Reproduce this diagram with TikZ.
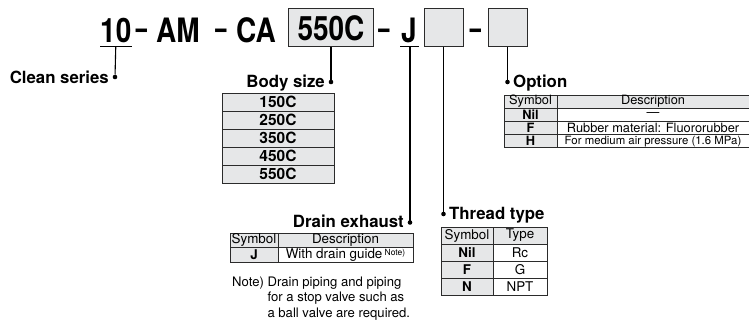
\documentclass[tikz,border=0pt]{standalone}
\usepackage{fontspec}
\setmainfont{TeX Gyre Heros}
\usepackage{graphicx}
\usepackage{tikz}
\usetikzlibrary{positioning,calc}
\definecolor{cellgray}{HTML}{E6E7E8}
\definecolor{rulegray}{HTML}{2B2B2B}
\newcommand{\codetxt}[1]{\scalebox{1}[1.2]{\fontsize{28}{28}\selectfont\bfseries #1}}
\newcommand{\codedashtxt}{\scalebox{0.72}[1.2]{\fontsize{28}{28}\selectfont\bfseries\textendash}}
\newcommand{\headfont}{\fontsize{16.8}{18}\selectfont\bfseries}
\newcommand{\cellfont}{\fontsize{13.4}{14}\selectfont}
\newcommand{\optfont}{\fontsize{12.8}{13}\selectfont}

\begin{document}
\begin{tikzpicture}[x=1pt,y=-1pt,
  code/.style={anchor=base west,inner sep=0pt},
  codedash/.style={anchor=base,inner sep=0pt},
  codebox/.style={draw=rulegray,fill=cellgray,line width=1pt,inner sep=0pt,minimum width=39pt,minimum height=38pt},
  wire/.style={line width=1.1pt,black},
  dot/.style={circle,fill=black,inner sep=0pt,minimum size=4.6pt},
  head/.style={inner sep=0pt,font=\headfont},
  cell/.style={draw=rulegray,line width=0.9pt,inner sep=0pt,font=\cellfont},
  gcell/.style={cell,fill=cellgray},
  wcell/.style={cell,fill=white},
  ocell/.style={minimum height=13.2pt,font=\optfont}]
\useasboundingbox (0,0) rectangle (749,321);

% model code
\node[code] (c10) at (100,42) {\codetxt{10}};
\node[codedash] (d1) at (141.5,40) {\codedashtxt};
\node[code] (cam) at (156,42) {\codetxt{AM}};
\node[codedash] (d2) at (221,40) {\codedashtxt};
\node[code] (cca) at (236,42) {\codetxt{CA}};
\node[codebox,minimum width=85pt] (csize) at (331,28) {\codetxt{550C}};
\node[codedash] (d3) at (384,40) {\codedashtxt};
\node[code] (cj) at (401,42) {\codetxt{J}};
\node[codebox] (cthread) at (443.5,28) {};
\node[codedash] (d4) at (475.5,40) {\codedashtxt};
\node[codebox] (copt) at (507.5,28) {};

% underlines
\draw[line width=1pt] ($(c10.south west)+(0,4)$) -- ($(c10.south east)+(0,4)$);
\draw[line width=1pt] ($(cj.south west)+(-1,4)$) -- ($(cj.south east)+(2,4)$);
\coordinate (c10u) at ($(c10.south)+(0,4)$);
\coordinate (cju) at ($(cj.south)+(1,4)$);

% dots and headings
\node[dot] (dclean) at (115,77) {};
\node[head,anchor=base east] (clean) at (109,83.5) {Clean series};
\node[dot] (dsize) at (331,82) {};
\node[head,anchor=base east] (size) at (325,88) {Body size};
\node[dot] (dopt) at (507.5,82) {};
\node[head,anchor=base west] (opt) at (513,88) {Option};
\node[dot] (ddrain) at (410,222.5) {};
\node[head,anchor=base east] (drain) at (404,227.5) {Drain exhaust};
\node[dot] (dthread) at (443.5,214) {};
\node[head,anchor=base west] (thread) at (449,219.5) {Thread type};

\draw[wire] (c10u) -- (dclean);
\draw[wire] (csize.south) -- (dsize);
\draw[wire] (copt.south) -- (dopt);
\draw[wire] (cju) -- (cju |- ddrain) -- (ddrain);
\draw[wire] (cthread.south) -- (dthread);

% body size table
\foreach \s [count=\i] in {150C,250C,350C,450C,550C}
  \node[gcell,minimum width=112pt,minimum height=18pt,font=\fontsize{15.5}{16}\selectfont\bfseries] (body\i) at (278,84+18*\i) {\s};

% option table
\node[gcell,ocell,minimum width=53pt] (osym) at (530.5,101.6) {Symbol};
\node[gcell,ocell,minimum width=192pt] (odesc) at (653,101.6) {Description};
\node[gcell,ocell,minimum width=53pt,font=\optfont\bfseries] (osym1) at (530.5,114.8) {Nil};
\node[wcell,ocell,minimum width=192pt] (odesc1) at (653,114.8) {\textemdash};
\node[gcell,ocell,minimum width=53pt,font=\optfont\bfseries] (osym2) at (530.5,128) {F};
\node[wcell,ocell,minimum width=192pt] (odesc2) at (653,128) {Rubber material: Fluororubber};
\node[gcell,ocell,minimum width=53pt,font=\optfont\bfseries] (osym3) at (530.5,141.2) {H};
\node[wcell,ocell,minimum width=192pt,font=\fontsize{11.4}{12}\selectfont] (odesc3) at (653,141.2) {For medium air pressure (1.6 MPa)};

% drain exhaust table
\node[gcell,minimum width=48pt,minimum height=14.5pt] (dsym) at (254,240.25) {Symbol};
\node[gcell,minimum width=135pt,minimum height=14.5pt] (ddesc) at (345.5,240.25) {Description};
\node[gcell,minimum width=48pt,minimum height=14.5pt,font=\cellfont\bfseries] (dsym1) at (254,254.75) {J};
\node[wcell,minimum width=135pt,minimum height=14.5pt] (ddesc1) at (345.5,254.75) {With drain guide\,\raisebox{3pt}{\fontsize{8.5}{9}\selectfont Note)}};
\node[anchor=base west,inner sep=0pt,font=\fontsize{13.1}{15.3}\selectfont] (note) at (232,286.5)
  {\begin{tabular}[t]{@{}l@{ }l@{}}Note) & Drain piping and piping\\ & for a stop valve such as\\ & a ball valve are required.\end{tabular}};

% thread type table
\node[gcell,minimum width=52pt,minimum height=17pt] (tsym) at (467,235.5) {Symbol};
\node[gcell,minimum width=54pt,minimum height=17pt] (ttype) at (520,235.5) {Type};
\foreach \s/\t [count=\i] in {Nil/Rc,F/G,N/NPT} {
  \node[gcell,minimum width=52pt,minimum height=17pt,font=\cellfont\bfseries] (tsym\i) at (467,235.5+17*\i) {\s};
  \node[wcell,minimum width=54pt,minimum height=17pt] (ttype\i) at (520,235.5+17*\i) {\t};
}
\end{tikzpicture}
\end{document}
